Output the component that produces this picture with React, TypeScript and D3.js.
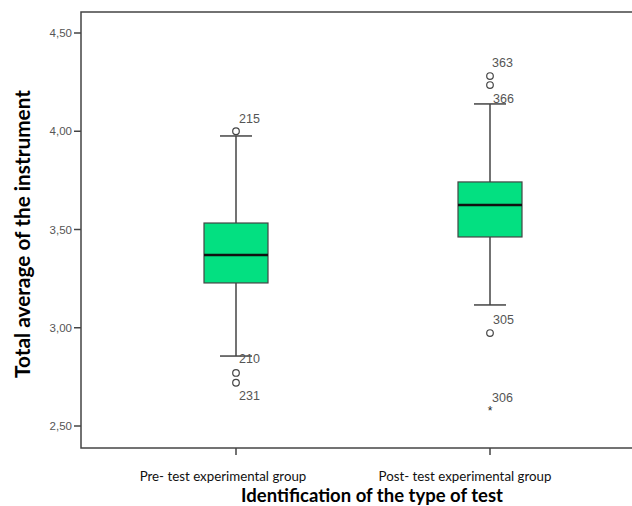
import React from "react";
import * as d3 from "d3";

const categories = ["Pre- test experimental group", "Post- test experimental group"];
const q1 = [3.228, 3.462];
const median = [3.37, 3.625];
const q3 = [3.533, 3.742];
const whiskerLow = [2.856, 3.116];
const whiskerHigh = [3.976, 4.139];
const outlierGroup = [0, 0, 0, 1, 1, 1, 1];
const outlierValue = [4.0, 2.77, 2.72, 4.281, 4.235, 2.973, 2.581];
const outlierLabel = ["215", "210", "231", "363", "366", "305", "306"];
const outlierKind = ["o", "o", "o", "o", "o", "o", "*"];
const yTicks = [2.5, 3.0, 3.5, 4.0, 4.5];

export default function App() {
  const W = 632, H = 506;
  const left = 81, top = 12, bottom = 448, right = 645;
  const y = d3.scaleLinear().domain([2.5, 4.5]).range([426, 33]);
  const x = d3.scaleBand().domain(categories).range([109, 617]);
  const cx = (i: number) => (x(categories[i]) as number) + x.bandwidth() / 2;
  const boxW = 64, capW = 32;
  const fmt = (v: number) => v.toFixed(2).replace(".", ",");
  const grey = "#444";
  const numFont = "'Liberation Sans', Arial, sans-serif";
  const calFont = "Lato, 'Open Sans', sans-serif";
  const labelOffsets: Record<string, [number, number]> = {
    "215": [3, -13], "210": [3, -14], "231": [3, 13], "363": [2, -13], "366": [3, 14], "305": [3, -13], "306": [2, -12],
  };
  const catShift = [-13, -25];
  return (
    <svg width={W} height={H} style={{ position: "absolute", left: 0, top: 0, background: "#fff" }}>
      <rect x={left} y={top} width={right - left} height={bottom - top} fill="none" stroke={grey} strokeWidth={1.5} />
      {yTicks.map((t) => (
        <g key={t}>
          <line x1={left - 7} x2={left} y1={y(t)} y2={y(t)} stroke={grey} strokeWidth={1.5} />
          <text x={left - 9} y={y(t)} dy="0.35em" textAnchor="end" fontFamily={numFont} fontSize={11.5} fill="#555">{fmt(t)}</text>
        </g>
      ))}
      {categories.map((c, i) => (
        <g key={c}>
          <line x1={cx(i)} x2={cx(i)} y1={bottom} y2={bottom + 7} stroke={grey} strokeWidth={1.5} />
          <text x={cx(i) + catShift[i]} y={481} textAnchor="middle" fontFamily={calFont} fontSize={13.3} fill="#111">{c}</text>
          <line x1={cx(i)} x2={cx(i)} y1={y(whiskerHigh[i])} y2={y(q3[i])} stroke={grey} strokeWidth={1.5} />
          <line x1={cx(i)} x2={cx(i)} y1={y(q1[i])} y2={y(whiskerLow[i])} stroke={grey} strokeWidth={1.5} />
          <line x1={cx(i) - capW / 2} x2={cx(i) + capW / 2} y1={y(whiskerHigh[i])} y2={y(whiskerHigh[i])} stroke={grey} strokeWidth={1.5} />
          <line x1={cx(i) - capW / 2} x2={cx(i) + capW / 2} y1={y(whiskerLow[i])} y2={y(whiskerLow[i])} stroke={grey} strokeWidth={1.5} />
          <rect x={cx(i) - boxW / 2} y={y(q3[i])} width={boxW} height={y(q1[i]) - y(q3[i])} fill="#03E081" stroke={grey} strokeWidth={1.2} />
          <line x1={cx(i) - boxW / 2} x2={cx(i) + boxW / 2} y1={y(median[i])} y2={y(median[i])} stroke="#111" strokeWidth={2.5} />
        </g>
      ))}
      {outlierValue.map((v, k) => {
        const px = cx(outlierGroup[k]);
        const py = y(v);
        const lab = outlierLabel[k];
        const off = labelOffsets[lab] || [0, 0];
        return (
          <g key={k}>
            {outlierKind[k] === "o" && <circle cx={px} cy={py} r={3.3} fill="none" stroke={grey} strokeWidth={1.2} />}
            {outlierKind[k] === "*" && <text x={px} y={py + 5} textAnchor="middle" fontSize={12} fill="#222" fontFamily={numFont}>*</text>}
            {lab && <text x={px + off[0]} y={py + off[1]} dy="0.35em" fontFamily={numFont} fontSize={12.5} fill="#555">{lab}</text>}
          </g>
        );
      })}
      <text transform={`translate(30,234) rotate(-90)`} textAnchor="middle" fontFamily={calFont} fontWeight="bold" fontSize={20.8} fill="#000">Total average of the instrument</text>
      <text x={372} y={502} textAnchor="middle" fontFamily={calFont} fontWeight="bold" fontSize={18.5} fill="#000">Identification of the type of test</text>
    </svg>
  );
}
